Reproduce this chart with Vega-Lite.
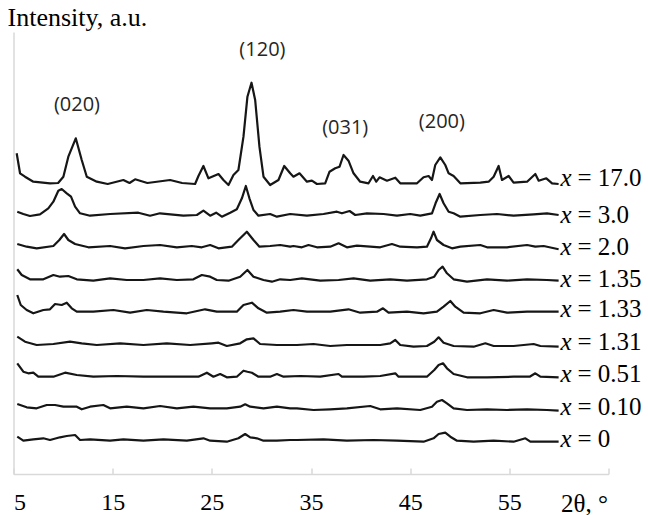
{
"$schema": "https://vega.github.io/schema/vega-lite/v6.json",
"width": 595, "height": 442,
"autosize": {"type": "none"},
"padding": {"left": 13.5, "top": 32, "right": 39.5, "bottom": 41},
"background": "white",
"config": {"view": {"stroke": null}, "axis": {"grid": false}},
"datasets": {
"scans": [
{"s":"17.0","t":5.32,"i":320.7},{"s":"17.0","t":5.66,"i":300.7},{"s":"17.0","t":6.16,"i":297.3},{"s":"17.0","t":7.0,"i":292.3},{"s":"17.0","t":8.68,"i":290.7},{"s":"17.0","t":9.5,"i":291},{"s":"17.0","t":10.03,"i":297.3},{"s":"17.0","t":10.53,"i":317.3},{"s":"17.0","t":11.28,"i":335.7},{"s":"17.0","t":11.88,"i":314},{"s":"17.0","t":12.39,"i":297.3},{"s":"17.0","t":13.4,"i":292.3},{"s":"17.0","t":14.5,"i":290},{"s":"17.0","t":16.08,"i":294},{"s":"17.0","t":16.7,"i":291},{"s":"17.0","t":17.26,"i":294.7},{"s":"17.0","t":18.5,"i":291},{"s":"17.0","t":20.79,"i":294},{"s":"17.0","t":22,"i":291},{"s":"17.0","t":23.31,"i":290},{"s":"17.0","t":23.65,"i":298},{"s":"17.0","t":24.15,"i":308},{"s":"17.0","t":24.66,"i":295.7},{"s":"17.0","t":25.67,"i":300},{"s":"17.0","t":26.17,"i":294},{"s":"17.0","t":26.68,"i":289},{"s":"17.0","t":27.18,"i":299},{"s":"17.0","t":27.68,"i":304},{"s":"17.0","t":28.19,"i":337.3},{"s":"17.0","t":28.59,"i":377.3},{"s":"17.0","t":29.0,"i":391.3},{"s":"17.0","t":29.37,"i":374},{"s":"17.0","t":29.8,"i":327.3},{"s":"17.0","t":30.21,"i":297.3},{"s":"17.0","t":30.88,"i":289},{"s":"17.0","t":31.72,"i":294},{"s":"17.0","t":32.3,"i":308},{"s":"17.0","t":32.9,"i":300.7},{"s":"17.0","t":33.23,"i":297.3},{"s":"17.0","t":33.84,"i":300.7},{"s":"17.0","t":34.59,"i":292.3},{"s":"17.0","t":35.09,"i":293.3},{"s":"17.0","t":35.6,"i":290},{"s":"17.0","t":36.43,"i":290.7},{"s":"17.0","t":36.87,"i":302.3},{"s":"17.0","t":37.44,"i":305.7},{"s":"17.0","t":37.88,"i":307.3},{"s":"17.0","t":38.28,"i":319},{"s":"17.0","t":38.78,"i":313.3},{"s":"17.0","t":39.29,"i":300.7},{"s":"17.0","t":39.96,"i":292.3},{"s":"17.0","t":40.8,"i":290.7},{"s":"17.0","t":41.25,"i":298},{"s":"17.0","t":41.58,"i":292.3},{"s":"17.0","t":41.91,"i":296.7},{"s":"17.0","t":42.66,"i":293.3},{"s":"17.0","t":43.5,"i":296.3},{"s":"17.0","t":44.0,"i":290.7},{"s":"17.0","t":45.69,"i":290.7},{"s":"17.0","t":46.35,"i":296.7},{"s":"17.0","t":46.86,"i":298},{"s":"17.0","t":47.2,"i":294},{"s":"17.0","t":47.53,"i":309},{"s":"17.0","t":48.04,"i":316.7},{"s":"17.0","t":48.54,"i":309},{"s":"17.0","t":48.88,"i":300.7},{"s":"17.0","t":49.38,"i":298},{"s":"17.0","t":50.06,"i":290.7},{"s":"17.0","t":52.07,"i":291.3},{"s":"17.0","t":52.91,"i":292.3},{"s":"17.0","t":53.42,"i":297.3},{"s":"17.0","t":53.92,"i":308},{"s":"17.0","t":54.26,"i":294},{"s":"17.0","t":54.93,"i":298},{"s":"17.0","t":55.43,"i":291.3},{"s":"17.0","t":56.79,"i":292.3},{"s":"17.0","t":57.62,"i":300},{"s":"17.0","t":57.96,"i":293.3},{"s":"17.0","t":58.73,"i":295.7},{"s":"17.0","t":59.31,"i":290.7},{"s":"17.0","t":59.97,"i":290},
{"s":"3.0","t":5.38,"i":262.3},{"s":"3.0","t":5.99,"i":260},{"s":"3.0","t":6.66,"i":258},{"s":"3.0","t":7.67,"i":259.7},{"s":"3.0","t":8.51,"i":265.7},{"s":"3.0","t":9.02,"i":272.3},{"s":"3.0","t":9.52,"i":283.3},{"s":"3.0","t":9.86,"i":285},{"s":"3.0","t":10.37,"i":280.7},{"s":"3.0","t":10.8,"i":277.3},{"s":"3.0","t":11.21,"i":267.3},{"s":"3.0","t":11.71,"i":260.7},{"s":"3.0","t":12.72,"i":258.3},{"s":"3.0","t":14.74,"i":260},{"s":"3.0","t":17.59,"i":261.3},{"s":"3.0","t":18.77,"i":258.3},{"s":"3.0","t":19.77,"i":260.7},{"s":"3.0","t":22.13,"i":258.3},{"s":"3.0","t":23.49,"i":259},{"s":"3.0","t":24.15,"i":263.3},{"s":"3.0","t":24.83,"i":258.3},{"s":"3.0","t":25.43,"i":261.3},{"s":"3.0","t":26.01,"i":257.3},{"s":"3.0","t":26.85,"i":261.3},{"s":"3.0","t":27.52,"i":264.7},{"s":"3.0","t":28.03,"i":275.7},{"s":"3.0","t":28.43,"i":288},{"s":"3.0","t":28.79,"i":275.7},{"s":"3.0","t":29.2,"i":264},{"s":"3.0","t":29.7,"i":258.3},{"s":"3.0","t":30.88,"i":260},{"s":"3.0","t":31.56,"i":257.3},{"s":"3.0","t":32.9,"i":260},{"s":"3.0","t":34.59,"i":258.3},{"s":"3.0","t":36.26,"i":260},{"s":"3.0","t":37.61,"i":262.3},{"s":"3.0","t":38.12,"i":260.7},{"s":"3.0","t":38.89,"i":263},{"s":"3.0","t":39.46,"i":259},{"s":"3.0","t":40.64,"i":260.7},{"s":"3.0","t":42.32,"i":260},{"s":"3.0","t":43.67,"i":258.3},{"s":"3.0","t":45.01,"i":260},{"s":"3.0","t":46.02,"i":258.3},{"s":"3.0","t":47.2,"i":260.7},{"s":"3.0","t":47.56,"i":270.7},{"s":"3.0","t":47.97,"i":280},{"s":"3.0","t":48.37,"i":270.7},{"s":"3.0","t":48.88,"i":262.3},{"s":"3.0","t":49.38,"i":260.7},{"s":"3.0","t":50.06,"i":257.3},{"s":"3.0","t":52.07,"i":259},{"s":"3.0","t":53.76,"i":260},{"s":"3.0","t":55.43,"i":258.3},{"s":"3.0","t":57.45,"i":259.7},{"s":"3.0","t":58.8,"i":260.7},{"s":"3.0","t":59.97,"i":259},
{"s":"2.0","t":5.38,"i":230},{"s":"2.0","t":6.33,"i":227.3},{"s":"2.0","t":7.34,"i":225.7},{"s":"2.0","t":9.02,"i":228},{"s":"2.0","t":9.62,"i":234},{"s":"2.0","t":10.1,"i":240},{"s":"2.0","t":10.53,"i":234},{"s":"2.0","t":11.21,"i":230},{"s":"2.0","t":12.55,"i":226.7},{"s":"2.0","t":14.74,"i":228},{"s":"2.0","t":16.25,"i":225.7},{"s":"2.0","t":18.1,"i":228},{"s":"2.0","t":19.78,"i":229},{"s":"2.0","t":21.47,"i":226.7},{"s":"2.0","t":22.98,"i":228},{"s":"2.0","t":23.99,"i":226.7},{"s":"2.0","t":24.83,"i":229},{"s":"2.0","t":25.67,"i":225.7},{"s":"2.0","t":27.02,"i":227.3},{"s":"2.0","t":27.68,"i":234},{"s":"2.0","t":28.53,"i":242.3},{"s":"2.0","t":29.2,"i":234},{"s":"2.0","t":29.8,"i":227.3},{"s":"2.0","t":30.88,"i":228},{"s":"2.0","t":31.89,"i":229},{"s":"2.0","t":32.9,"i":227.3},{"s":"2.0","t":33.23,"i":228},{"s":"2.0","t":34.08,"i":226.7},{"s":"2.0","t":34.75,"i":229},{"s":"2.0","t":35.6,"i":226.7},{"s":"2.0","t":36.94,"i":227.3},{"s":"2.0","t":37.78,"i":230.7},{"s":"2.0","t":38.62,"i":226.7},{"s":"2.0","t":39.63,"i":228.3},{"s":"2.0","t":41.98,"i":226.7},{"s":"2.0","t":43.16,"i":230},{"s":"2.0","t":44.0,"i":227.3},{"s":"2.0","t":45.69,"i":226.7},{"s":"2.0","t":46.69,"i":227.3},{"s":"2.0","t":47.1,"i":235.7},{"s":"2.0","t":47.36,"i":242.3},{"s":"2.0","t":47.7,"i":234},{"s":"2.0","t":48.37,"i":229},{"s":"2.0","t":49.22,"i":225.7},{"s":"2.0","t":50.06,"i":227.3},{"s":"2.0","t":52.07,"i":229},{"s":"2.0","t":52.75,"i":226.7},{"s":"2.0","t":54.77,"i":226.7},{"s":"2.0","t":56.79,"i":229},{"s":"2.0","t":57.62,"i":227.3},{"s":"2.0","t":58.46,"i":228},{"s":"2.0","t":59.97,"i":224.7},
{"s":"1.35","t":5.38,"i":204.7},{"s":"1.35","t":5.83,"i":199},{"s":"1.35","t":6.66,"i":194.7},{"s":"1.35","t":8.01,"i":194.7},{"s":"1.35","t":9.02,"i":199},{"s":"1.35","t":9.69,"i":197.3},{"s":"1.35","t":10.53,"i":198},{"s":"1.35","t":11.38,"i":194.7},{"s":"1.35","t":13.05,"i":193.3},{"s":"1.35","t":14.74,"i":195.7},{"s":"1.35","t":16.42,"i":194},{"s":"1.35","t":18.1,"i":194},{"s":"1.35","t":19.78,"i":195.7},{"s":"1.35","t":21.47,"i":194},{"s":"1.35","t":23.14,"i":194.7},{"s":"1.35","t":23.99,"i":199},{"s":"1.35","t":24.83,"i":197.3},{"s":"1.35","t":25.5,"i":194},{"s":"1.35","t":26.68,"i":193.3},{"s":"1.35","t":27.86,"i":197.3},{"s":"1.35","t":28.59,"i":204},{"s":"1.35","t":29.2,"i":197.3},{"s":"1.35","t":30.21,"i":194},{"s":"1.35","t":31.05,"i":192.3},{"s":"1.35","t":31.89,"i":194.7},{"s":"1.35","t":32.9,"i":194},{"s":"1.35","t":34.08,"i":195.7},{"s":"1.35","t":35.93,"i":193.3},{"s":"1.35","t":37.78,"i":194},{"s":"1.35","t":39.29,"i":195.7},{"s":"1.35","t":40.97,"i":193.3},{"s":"1.35","t":42.99,"i":194.7},{"s":"1.35","t":44.68,"i":193.3},{"s":"1.35","t":46.69,"i":194.7},{"s":"1.35","t":47.43,"i":197.3},{"s":"1.35","t":47.87,"i":204},{"s":"1.35","t":48.27,"i":207.3},{"s":"1.35","t":48.71,"i":200.7},{"s":"1.35","t":49.38,"i":194.7},{"s":"1.35","t":50.73,"i":192.3},{"s":"1.35","t":52.75,"i":194.7},{"s":"1.35","t":54.77,"i":193.3},{"s":"1.35","t":56.79,"i":194.7},{"s":"1.35","t":58.8,"i":194},{"s":"1.35","t":59.97,"i":193.3},
{"s":"1.33","t":5.38,"i":179},{"s":"1.33","t":5.73,"i":169},{"s":"1.33","t":6.33,"i":164},{"s":"1.33","t":7.0,"i":160.7},{"s":"1.33","t":8.01,"i":164},{"s":"1.33","t":8.68,"i":164.7},{"s":"1.33","t":9.19,"i":170},{"s":"1.33","t":9.86,"i":169},{"s":"1.33","t":10.37,"i":171.3},{"s":"1.33","t":10.87,"i":165.7},{"s":"1.33","t":11.38,"i":162.3},{"s":"1.33","t":13.05,"i":162.3},{"s":"1.33","t":15.07,"i":164},{"s":"1.33","t":16.76,"i":161.3},{"s":"1.33","t":18.44,"i":164},{"s":"1.33","t":20.12,"i":162.3},{"s":"1.33","t":22.48,"i":160.7},{"s":"1.33","t":24.32,"i":164.7},{"s":"1.33","t":25.5,"i":162.3},{"s":"1.33","t":27.52,"i":162.3},{"s":"1.33","t":28.19,"i":169},{"s":"1.33","t":29.04,"i":171.3},{"s":"1.33","t":29.7,"i":165.7},{"s":"1.33","t":30.55,"i":161.3},{"s":"1.33","t":31.89,"i":162.3},{"s":"1.33","t":33.23,"i":164},{"s":"1.33","t":34.59,"i":162.3},{"s":"1.33","t":36.94,"i":162.3},{"s":"1.33","t":38.78,"i":164.7},{"s":"1.33","t":39.96,"i":161.3},{"s":"1.33","t":41.65,"i":162.3},{"s":"1.33","t":42.26,"i":165.7},{"s":"1.33","t":42.82,"i":161.3},{"s":"1.33","t":44.68,"i":162.3},{"s":"1.33","t":46.35,"i":160.7},{"s":"1.33","t":47.7,"i":162.3},{"s":"1.33","t":48.37,"i":167.3},{"s":"1.33","t":49.05,"i":173},{"s":"1.33","t":49.55,"i":167.3},{"s":"1.33","t":50.39,"i":161.3},{"s":"1.33","t":52.07,"i":160.7},{"s":"1.33","t":53.42,"i":164},{"s":"1.33","t":54.77,"i":161.3},{"s":"1.33","t":56.79,"i":162.3},{"s":"1.33","t":58.8,"i":162.3},{"s":"1.33","t":59.97,"i":162.3},
{"s":"1.31","t":5.38,"i":137.3},{"s":"1.31","t":6.16,"i":132.3},{"s":"1.31","t":7.34,"i":129},{"s":"1.31","t":9.02,"i":130},{"s":"1.31","t":10.7,"i":132.3},{"s":"1.31","t":11.88,"i":130.7},{"s":"1.31","t":13.4,"i":129},{"s":"1.31","t":15.75,"i":130.7},{"s":"1.31","t":18.1,"i":129},{"s":"1.31","t":20.46,"i":130.7},{"s":"1.31","t":22.81,"i":129},{"s":"1.31","t":25.0,"i":130.7},{"s":"1.31","t":25.67,"i":131.3},{"s":"1.31","t":26.51,"i":128},{"s":"1.31","t":27.86,"i":130.7},{"s":"1.31","t":28.53,"i":134.7},{"s":"1.31","t":29.2,"i":135.7},{"s":"1.31","t":29.87,"i":130},{"s":"1.31","t":31.56,"i":129},{"s":"1.31","t":33.58,"i":129},{"s":"1.31","t":35.25,"i":130},{"s":"1.31","t":36.94,"i":128},{"s":"1.31","t":38.62,"i":129},{"s":"1.31","t":40.3,"i":129},{"s":"1.31","t":41.98,"i":129},{"s":"1.31","t":42.99,"i":130.7},{"s":"1.31","t":43.5,"i":134},{"s":"1.31","t":44.0,"i":129},{"s":"1.31","t":45.34,"i":127.3},{"s":"1.31","t":46.69,"i":128},{"s":"1.31","t":47.43,"i":132.3},{"s":"1.31","t":47.87,"i":136.7},{"s":"1.31","t":48.37,"i":131.3},{"s":"1.31","t":49.38,"i":128},{"s":"1.31","t":51.4,"i":127.3},{"s":"1.31","t":52.58,"i":130.7},{"s":"1.31","t":53.42,"i":128},{"s":"1.31","t":55.43,"i":128},{"s":"1.31","t":57.45,"i":130},{"s":"1.31","t":58.13,"i":128},{"s":"1.31","t":59.97,"i":127.3},
{"s":"0.51","t":5.38,"i":110.7},{"s":"0.51","t":5.99,"i":102.3},{"s":"0.51","t":6.49,"i":100.7},{"s":"0.51","t":7.0,"i":101.3},{"s":"0.51","t":7.5,"i":97.3},{"s":"0.51","t":9.02,"i":97.3},{"s":"0.51","t":10.2,"i":101.3},{"s":"0.51","t":11.38,"i":99},{"s":"0.51","t":13.05,"i":97.3},{"s":"0.51","t":15.41,"i":98},{"s":"0.51","t":18.1,"i":97.3},{"s":"0.51","t":20.79,"i":97.3},{"s":"0.51","t":23.65,"i":97.3},{"s":"0.51","t":24.5,"i":101.3},{"s":"0.51","t":25.16,"i":97.3},{"s":"0.51","t":25.84,"i":100},{"s":"0.51","t":26.51,"i":96.7},{"s":"0.51","t":27.52,"i":97.3},{"s":"0.51","t":28.19,"i":103.3},{"s":"0.51","t":28.59,"i":102.3},{"s":"0.51","t":29.04,"i":101.3},{"s":"0.51","t":29.7,"i":97.3},{"s":"0.51","t":30.88,"i":97.3},{"s":"0.51","t":31.56,"i":100},{"s":"0.51","t":32.23,"i":97.3},{"s":"0.51","t":33.91,"i":98},{"s":"0.51","t":35.93,"i":97.3},{"s":"0.51","t":37.78,"i":100},{"s":"0.51","t":38.12,"i":97.3},{"s":"0.51","t":40.3,"i":97.3},{"s":"0.51","t":41.98,"i":98},{"s":"0.51","t":43.5,"i":100.7},{"s":"0.51","t":43.83,"i":97.3},{"s":"0.51","t":46.69,"i":97.3},{"s":"0.51","t":47.43,"i":104},{"s":"0.51","t":47.87,"i":109},{"s":"0.51","t":48.31,"i":110.7},{"s":"0.51","t":48.71,"i":105.7},{"s":"0.51","t":49.38,"i":100},{"s":"0.51","t":50.73,"i":96.7},{"s":"0.51","t":52.75,"i":96.7},{"s":"0.51","t":55.43,"i":97.3},{"s":"0.51","t":57.05,"i":97.3},{"s":"0.51","t":57.62,"i":100.7},{"s":"0.51","t":58.13,"i":97.3},{"s":"0.51","t":59.97,"i":96.7},
{"s":"0.10","t":5.38,"i":70},{"s":"0.10","t":6.33,"i":66.7},{"s":"0.10","t":7.34,"i":65.7},{"s":"0.10","t":8.35,"i":69},{"s":"0.10","t":9.19,"i":69},{"s":"0.10","t":10.03,"i":67.3},{"s":"0.10","t":11.38,"i":67.3},{"s":"0.10","t":11.88,"i":64.7},{"s":"0.10","t":12.72,"i":67.3},{"s":"0.10","t":14.06,"i":69},{"s":"0.10","t":14.74,"i":65.7},{"s":"0.10","t":16.42,"i":67.3},{"s":"0.10","t":18.1,"i":65.7},{"s":"0.10","t":19.78,"i":68},{"s":"0.10","t":21.47,"i":65.7},{"s":"0.10","t":23.14,"i":67.3},{"s":"0.10","t":24.83,"i":65.7},{"s":"0.10","t":26.51,"i":65.7},{"s":"0.10","t":27.86,"i":67.3},{"s":"0.10","t":28.36,"i":69.7},{"s":"0.10","t":28.87,"i":67.3},{"s":"0.10","t":30.21,"i":65.7},{"s":"0.10","t":31.56,"i":67.3},{"s":"0.10","t":32.9,"i":65.7},{"s":"0.10","t":33.58,"i":65.7},{"s":"0.10","t":35.25,"i":64},{"s":"0.10","t":36.94,"i":64.7},{"s":"0.10","t":38.62,"i":65.7},{"s":"0.10","t":40.97,"i":68},{"s":"0.10","t":41.98,"i":64.7},{"s":"0.10","t":43.67,"i":65.7},{"s":"0.10","t":46.02,"i":64},{"s":"0.10","t":47.2,"i":67.3},{"s":"0.10","t":47.7,"i":72.3},{"s":"0.10","t":48.21,"i":74},{"s":"0.10","t":48.71,"i":70.7},{"s":"0.10","t":49.38,"i":65.7},{"s":"0.10","t":50.73,"i":64},{"s":"0.10","t":52.75,"i":64.7},{"s":"0.10","t":54.77,"i":64},{"s":"0.10","t":56.79,"i":64.7},{"s":"0.10","t":58.8,"i":64},{"s":"0.10","t":59.97,"i":63.3},
{"s":"0","t":5.38,"i":37.3},{"s":"0","t":5.99,"i":33.3},{"s":"0","t":7.0,"i":34.7},{"s":"0","t":8.01,"i":35.7},{"s":"0","t":8.68,"i":34},{"s":"0","t":9.69,"i":36.7},{"s":"0","t":10.37,"i":38},{"s":"0","t":11.21,"i":39},{"s":"0","t":11.71,"i":34},{"s":"0","t":12.72,"i":34.7},{"s":"0","t":14.74,"i":33.3},{"s":"0","t":16.08,"i":34.7},{"s":"0","t":18.1,"i":33.3},{"s":"0","t":20.12,"i":34.7},{"s":"0","t":22.48,"i":33.3},{"s":"0","t":24.15,"i":35.7},{"s":"0","t":24.83,"i":33.3},{"s":"0","t":26.51,"i":32.3},{"s":"0","t":27.68,"i":35.7},{"s":"0","t":28.36,"i":40},{"s":"0","t":28.87,"i":36.7},{"s":"0","t":29.54,"i":35.7},{"s":"0","t":30.21,"i":33.3},{"s":"0","t":31.56,"i":33.3},{"s":"0","t":32.9,"i":34},{"s":"0","t":33.58,"i":34},{"s":"0","t":36.26,"i":34.7},{"s":"0","t":38.62,"i":33.3},{"s":"0","t":41.31,"i":34},{"s":"0","t":43.67,"i":33.3},{"s":"0","t":46.35,"i":32.3},{"s":"0","t":47.36,"i":35.7},{"s":"0","t":47.87,"i":40},{"s":"0","t":48.54,"i":41.3},{"s":"0","t":49.05,"i":37.3},{"s":"0","t":49.72,"i":33.3},{"s":"0","t":51.4,"i":32.3},{"s":"0","t":53.42,"i":33.3},{"s":"0","t":55.43,"i":32.3},{"s":"0","t":56.62,"i":35.7},{"s":"0","t":57.12,"i":32.3},{"s":"0","t":59.97,"i":32.3}
],
"labels": [
{"s":"17.0","t":60.15,"i":288,"lab":"= 17.0"},
{"s":"3.0","t":60.15,"i":251,"lab":"= 3.0"},
{"s":"2.0","t":60.15,"i":219,"lab":"= 2.0"},
{"s":"1.35","t":60.15,"i":187,"lab":"= 1.35"},
{"s":"1.33","t":60.15,"i":157,"lab":"= 1.33"},
{"s":"1.31","t":60.15,"i":124,"lab":"= 1.31"},
{"s":"0.51","t":60.15,"i":92,"lab":"= 0.51"},
{"s":"0.10","t":60.15,"i":59,"lab":"= 0.10"},
{"s":"0","t":60.15,"i":27,"lab":"= 0"}
],
"hkl": [
{"t":11.4,"i":369,"lab":"(020)"},
{"t":30.1,"i":424,"lab":"(120)"},
{"t":38.45,"i":346,"lab":"(031)"},
{"t":48.2,"i":352,"lab":"(200)"}
]
},
"encoding": {
"x": {"field": "t", "type": "quantitative", "scale": {"domain": [5, 65], "nice": false, "zero": false},
"axis": {"values": [5, 15, 25, 35, 45, 55, 65], "labelExpr": "datum.value == 65 ? '' : datum.label", "title": "2θ, °",
"domainColor": "#d9d9d9", "domainWidth": 1.5, "tickColor": "#d9d9d9", "tickSize": -6, "tickWidth": 1.5,
"labelFont": "Liberation Serif, Times New Roman, serif", "labelFontSize": 24, "labelColor": "#000", "labelBaseline": "alphabetic", "labelPadding": 41,
"titleFont": "Liberation Serif, Times New Roman, serif", "titleFontSize": 25, "titleFontWeight": "normal", "titleColor": "#000",
"titleX": 570.5, "titleY": 37, "titleAlign": "center", "titleBaseline": "alphabetic"}},
"y": {"field": "i", "type": "quantitative", "scale": {"domain": [0, 442], "nice": false, "zero": false},
"axis": {"ticks": false, "labels": false, "domainColor": "#d9d9d9", "domainWidth": 1.5, "title": "Intensity, a.u.",
"titleAngle": 0, "titleX": -6.5, "titleY": -7, "titleAlign": "left", "titleBaseline": "alphabetic",
"titleFont": "Liberation Serif, Times New Roman, serif", "titleFontSize": 26, "titleFontWeight": "normal", "titleColor": "#000"}}
},
"layer": [
{
"data": {"name": "scans"},
"mark": {"type": "line", "color": "#161616", "strokeWidth": 2.2, "strokeJoin": "round"},
"encoding": {"detail": {"field": "s"}}
},
{
"data": {"name": "labels"},
"mark": {"type": "text", "align": "left", "baseline": "alphabetic", "font": "Liberation Serif, Times New Roman, serif", "fontSize": 25, "fontStyle": "italic", "color": "#000"},
"encoding": {"text": {"value": "x"}}
},
{
"data": {"name": "labels"},
"mark": {"type": "text", "align": "left", "baseline": "alphabetic", "font": "Liberation Serif, Times New Roman, serif", "fontSize": 25, "dx": 17, "color": "#000"},
"encoding": {"text": {"field": "lab"}}
},
{
"data": {"name": "hkl"},
"mark": {"type": "text", "align": "center", "baseline": "middle", "font": "Open Sans", "fontSize": 20, "color": "#262626"},
"encoding": {"text": {"field": "lab"}}
}
]
}
